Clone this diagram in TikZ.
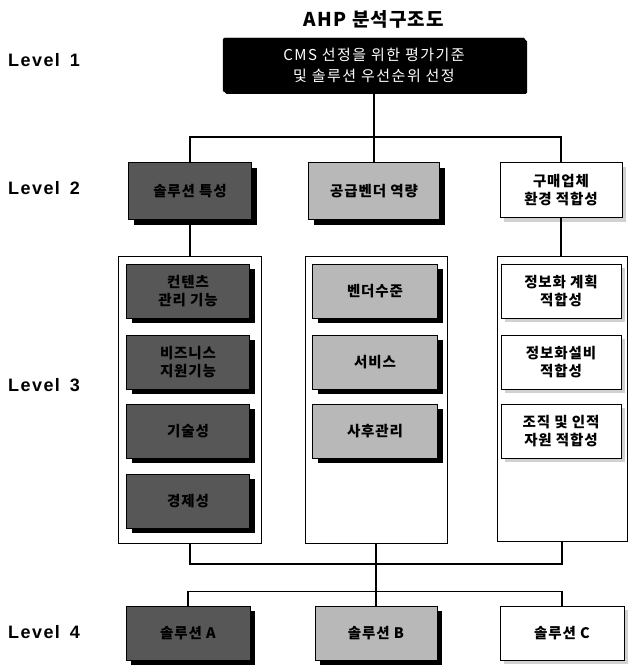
\documentclass[tikz,border=0pt]{standalone}
\usepackage{fontspec}
\setmainfont{Liberation Sans}
\newfontfamily\lvlfont[LetterSpace=8]{Liberation Sans}
\newfontfamily\kr[LetterSpace=6]{Noto Sans CJK KR}
\newfontfamily\krtop[LetterSpace=10]{Noto Sans CJK KR}
\newfontfamily\krtitle[LetterSpace=6]{Noto Sans CJK KR}
\usetikzlibrary{shadows}
\begin{document}
\begin{tikzpicture}[x=1pt,y=-1pt,
  lvl/.style={font=\lvlfont\bfseries\fontsize{18}{20}\selectfont, anchor=west, inner sep=0pt},
  bx/.style={draw=black, line width=1pt, minimum width=123, minimum height=55, align=center, inner sep=2pt, font=\kr\bfseries\fontsize{14.5}{18}\selectfont},
  darkbx/.style={bx, fill=black!66, drop shadow={shadow xshift=5pt, shadow yshift=-5pt, fill=black, opacity=1}},
  lightbx/.style={bx, fill=black!28, drop shadow={shadow xshift=5pt, shadow yshift=-5pt, fill=black, opacity=1}},
  whitebx/.style={bx, fill=white, drop shadow={shadow xshift=4pt, shadow yshift=-4pt, fill=black!18, opacity=1}},
  cont/.style={draw=black, line width=0.9pt, fill=white, inner sep=0pt},
  conn/.style={draw=black, line width=1.1pt}]
\useasboundingbox (0,0) rectangle (628,666);
\clip (0,0) rectangle (628,666);
% title and level 1
\node[font=\krtitle\bfseries\fontsize{19}{22}\selectfont] (title) at (374,19) {AHP 분석구조도};
\node[draw=black, fill=black, text=white, minimum width=302, minimum height=54, font=\krtop\fontsize{15}{21}\selectfont, align=center, rounded corners=1.5pt, drop shadow={shadow xshift=2pt, shadow yshift=-2pt, fill=black, opacity=1}] (L1) at (374,65) {CMS 선정을 위한 평가기준\\및 솔루션 우선순위 선정};
% level labels
\node[lvl] (lv1) at (8,60) {Level\hspace{10pt}1};
\node[lvl] (lv2) at (8,188) {Level\hspace{10pt}2};
\node[lvl] (lv3) at (8,385) {Level\hspace{10pt}3};
\node[lvl] (lv4) at (8,632) {Level\hspace{10pt}4};
% level 2
\node[darkbx, minimum height=57] (A2) at (190,191) {솔루션 특성};
\node[lightbx, minimum width=131, minimum height=57] (B2) at (374,191) {공급벤더 역량};
\node[whitebx, minimum width=122] (C2) at (561,190) {구매업체\\환경 적합성};
% containers
\node[cont, minimum width=143, minimum height=287] (K1) at (190,400) {};
\node[cont, minimum width=142, minimum height=287] (K2) at (376,400) {};
\node[cont, minimum width=130, minimum height=285] (K3) at (562,399) {};
% level 3, column 1
\node[darkbx, minimum height=54] (A31) at (188,291) {컨텐츠\\관리 기능};
\node[darkbx, minimum height=54] (A32) at (188,362) {비즈니스\\지원기능};
\node[darkbx, minimum height=54] (A33) at (188,431) {기술성};
\node[darkbx, minimum height=54] (A34) at (188,501) {경제성};
% level 3, column 2
\node[lightbx, minimum width=125, minimum height=54] (B31) at (375,291) {벤더수준};
\node[lightbx, minimum width=125, minimum height=54] (B32) at (375,362) {서비스};
\node[lightbx, minimum width=125, minimum height=54] (B33) at (375,431) {사후관리};
% level 3, column 3
\node[whitebx, minimum width=120, minimum height=54] (C31) at (561,291) {정보화 계획\\적합성};
\node[whitebx, minimum width=120, minimum height=54] (C32) at (561,362) {정보화설비\\적합성};
\node[whitebx, minimum width=120, minimum height=54] (C33) at (561,431) {조직 및 인적\\자원 적합성};
% level 4
\node[darkbx, minimum width=124, minimum height=54] (SA) at (188,633) {솔루션 A};
\node[lightbx, minimum width=122, minimum height=54] (SB) at (376,633) {솔루션 B};
\node[whitebx, minimum width=124, minimum height=54] (SC) at (562,633) {솔루션 C};
% connectors
\draw[conn] (L1.south) -- (B2.north);
\draw[conn] (A2.north) -- ++(0,-25) -| (C2.north);
\draw[conn] (A2.south) -- (A2.south |- K1.north);
\draw[conn] (C2.south) -- (C2.south |- K3.north);
\draw[conn] (K1.south) -- ++(0,20) -| (K3.south);
\draw[conn] (K2.south) -- (SB.north);
\draw[conn] (SA.north) -- ++(0,-14) -| (SC.north);
\end{tikzpicture}
\end{document}
